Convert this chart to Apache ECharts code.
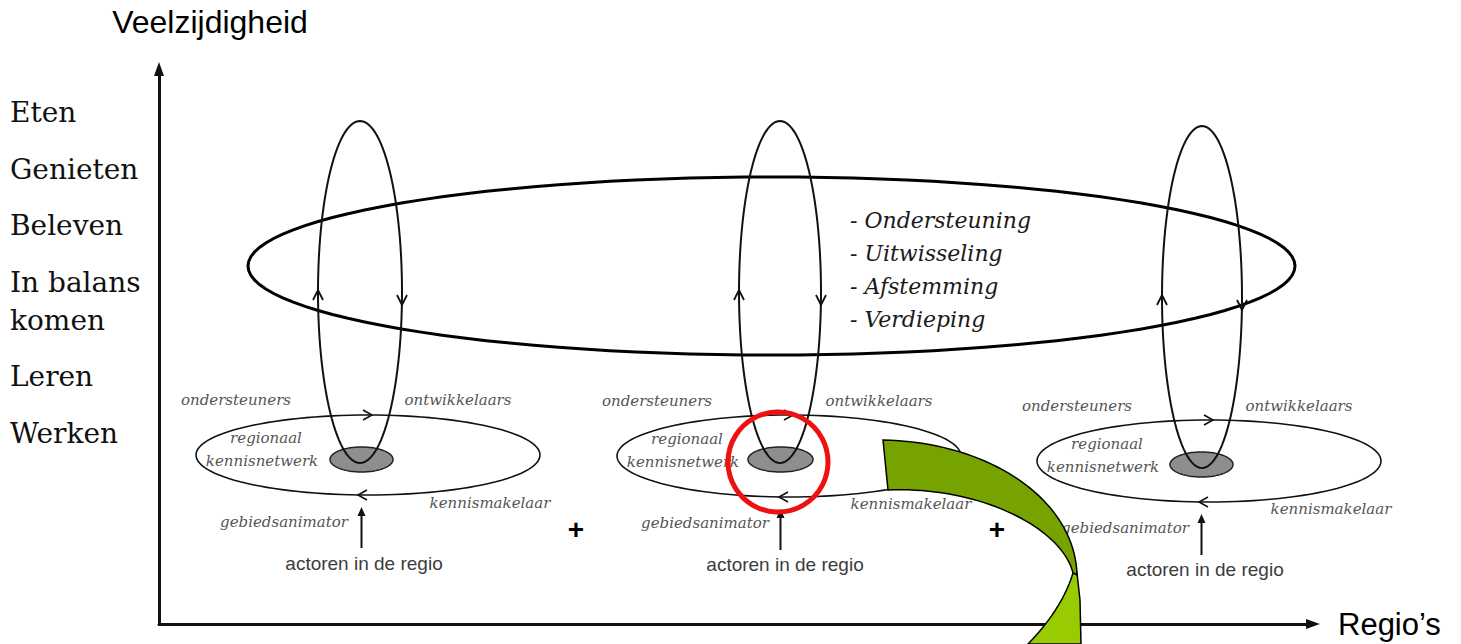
<!DOCTYPE html>
<html>
<head>
<meta charset="utf-8">
<style>
html, body { margin: 0; padding: 0; background: #fff; }
#diagram { width: 1461px; height: 644px; }
</style>
<script src="https://cdn.jsdelivr.net/npm/echarts@6/dist/echarts.min.js"></script>
</head>
<body>
<div id="diagram"></div>
<script>
// levels of "veelzijdigheid" (left side), with their height on the y axis
const levels = ['Eten', 'Genieten', 'Beleven', 'In balans\nkomen', 'Leren', 'Werken'];
const levelHeights = [512, 455, 399, 323, 248, 191];

// three regions along the x axis
const regions = ['regio 1', 'regio 2', 'regio 3'];
// regional network ring (small ellipse)
const ringCenterX = [209, 630, 1050];
const ringCenterY = [169, 168, 163];
const ringRadiusX = [172, 172, 172];
const ringRadiusY = [40, 41, 41];
// grey core "regionaal kennisnetwerk"
const coreCenterX = [202.5, 621.5, 1042.5];
const coreCenterY = [164.5, 164.5, 159.5];
const coreRadiusX = [31.5, 32.5, 31.5];
const coreRadiusY = [12.5, 12.5, 12.5];
// tall loop going up to the shared level
const loopCenterX = [201, 621, 1043];
const loopCenterY = [332, 332, 327];
const loopRadiusX = [42, 41, 40];
const loopRadiusY = [171, 171, 171];

// shared ellipse on top
const forumCenter = [612.5, 358];
const forumRadius = [523.5, 89];
const forumItems = ['- Ondersteuning', '- Uitwisseling', '- Afstemming', '- Verdieping'];

// roles around each ring
const roleLabels = ['ondersteuners', 'ontwikkelaars', 'regionaal', 'kennisnetwerk',
    'kennismakelaar', 'gebiedsanimator', 'actoren in de regio'];

// "+" between regions
const plusX = [417, 838];
const plusY = [95, 95];

// red highlight circle
const highlightCenter = [619, 162];
const highlightRadius = 50;

// green pointer (outer edge, inner edge, twisted tail)
const pointerOuter = [[724, 184], [831, 182], [916, 124], [918, 49]];
const pointerInner = [[729, 134], [821, 138], [903, 96], [914, 51]];
const pointerTail = [[914, 51], [918, 51], [921, 24], [922, -20], [869, -20], [903, 15]];

// label offsets (px) relative to ring center, layout only
const roleOffsets = [[-132, 55], [90, 55], [-102, 17], [-106, -6], [122, -48], [-84, -67], [-4, -108]];

const ink = '#111';
const italicSerif = '"DejaVu Serif", serif';

function ellipsePoints(api, cx, cy, rx, ry) {
    const c = api.coord([cx, cy]);
    const s = api.size([rx, ry]);
    const pts = [];
    for (let k = 0; k < 120; k++) {
        const a = k / 120 * Math.PI * 2;
        pts.push([c[0] + s[0] * Math.cos(a), c[1] - s[1] * Math.sin(a)]);
    }
    return pts;
}

function chevron(tip, angle, len, half) {
    const dx = Math.cos(angle), dy = Math.sin(angle);
    return [
        [tip[0] - len * dx - half * dy, tip[1] - len * dy + half * dx],
        tip,
        [tip[0] - len * dx + half * dy, tip[1] - len * dy - half * dx]
    ];
}

function bezier(p0, p1, p2, p3, n) {
    const out = [];
    for (let i = 0; i <= n; i++) {
        const t = i / n, u = 1 - t;
        out.push([
            u * u * u * p0[0] + 3 * u * u * t * p1[0] + 3 * u * t * t * p2[0] + t * t * t * p3[0],
            u * u * u * p0[1] + 3 * u * u * t * p1[1] + 3 * u * t * t * p2[1] + t * t * t * p3[1]
        ]);
    }
    return out;
}

const chart = echarts.init(document.getElementById('diagram'), null, { renderer: 'svg' });

const roleData = [];
regions.forEach((r, ri) => {
    roleLabels.forEach((name, li) => {
        roleData.push([ringCenterX[ri], ringCenterY[ri], li]);
    });
});

const option = {
    animation: false,
    grid: { left: 159, right: 148, top: 69, bottom: 20 },
    xAxis: {
        type: 'value', min: 0, max: 1154,
        name: 'Regio\u2019s', nameLocation: 'end', nameGap: 25,
        nameTextStyle: { fontFamily: '"Liberation Sans", Arial', fontSize: 31, color: '#000', verticalAlign: 'middle' },
        axisLine: { show: true, onZero: false, symbol: ['none', 'triangle'], symbolSize: [10, 14],
            lineStyle: { color: ink, width: 3 } },
        axisTick: { show: false }, axisLabel: { show: false }, splitLine: { show: false }
    },
    yAxis: {
        type: 'value', min: 0, max: 555,
        name: 'Veelzijdigheid', nameLocation: 'end', nameGap: 47,
        nameTextStyle: { fontFamily: '"Liberation Sans", Arial', fontSize: 32, color: '#000',
            align: 'center', verticalAlign: 'middle', padding: [0, 0, 0, 102] },
        axisLine: { show: true, onZero: false, symbol: ['none', 'triangle'], symbolSize: [10, 14],
            lineStyle: { color: ink, width: 3 } },
        axisTick: { show: false }, axisLabel: { show: false }, splitLine: { show: false }
    },
    series: [
        {
            name: 'forum', type: 'custom', clip: false, z: 3,
            data: [[forumCenter[0], forumCenter[1], forumRadius[0], forumRadius[1]]],
            renderItem: (params, api) => ({
                type: 'polygon',
                shape: { points: ellipsePoints(api, api.value(0), api.value(1), api.value(2), api.value(3)) },
                style: { fill: 'none', stroke: '#000', lineWidth: 3 }
            })
        },
        {
            name: 'forumItems', type: 'custom', clip: false, z: 4,
            data: forumItems.map((t, i) => [691, 404, i]),
            renderItem: (params, api) => {
                const p = api.coord([api.value(0), api.value(1)]);
                return {
                    type: 'text', x: p[0], y: p[1] + 33.3 * api.value(2),
                    style: { text: forumItems[api.value(2)], fill: '#1a1a1a', fontSize: 22,
                        fontStyle: 'italic', fontFamily: italicSerif, align: 'left', verticalAlign: 'middle' }
                };
            }
        },
        {
            name: 'cores', type: 'custom', clip: false, z: 3,
            data: regions.map((r, i) => [coreCenterX[i], coreCenterY[i], coreRadiusX[i], coreRadiusY[i]]),
            renderItem: (params, api) => ({
                type: 'polygon',
                shape: { points: ellipsePoints(api, api.value(0), api.value(1), api.value(2), api.value(3)) },
                style: { fill: '#8e8e8e', stroke: '#222', lineWidth: 1.5 }
            })
        },
        {
            name: 'rings', type: 'custom', clip: false, z: 4,
            data: regions.map((r, i) => [ringCenterX[i], ringCenterY[i], ringRadiusX[i], ringRadiusY[i], coreCenterX[i]]),
            renderItem: (params, api) => {
                const cx = api.value(0), cy = api.value(1), rx = api.value(2), ry = api.value(3), fx = api.value(4);
                const top = api.coord([cx + 4, cy + ry]);
                const bottom = api.coord([cx - 10, cy - ry]);
                const feedFrom = api.coord([fx, cy - ry - 53]);
                const feedTip = api.coord([fx, cy - ry - 12]);
                return {
                    type: 'group',
                    children: [
                        { type: 'polygon', shape: { points: ellipsePoints(api, cx, cy, rx, ry) },
                            style: { fill: 'none', stroke: ink, lineWidth: 1.6 } },
                        { type: 'polyline', shape: { points: chevron(top, 0, 9, 5) },
                            style: { fill: 'none', stroke: ink, lineWidth: 1.6 } },
                        { type: 'polyline', shape: { points: chevron(bottom, Math.PI, 9, 5) },
                            style: { fill: 'none', stroke: ink, lineWidth: 1.6 } },
                        { type: 'line', shape: { x1: feedFrom[0], y1: feedFrom[1], x2: feedTip[0], y2: feedTip[1] + 6 },
                            style: { stroke: ink, lineWidth: 2 } },
                        { type: 'polygon', shape: { points: [[feedTip[0], feedTip[1]], [feedTip[0] - 4, feedTip[1] + 9], [feedTip[0] + 4, feedTip[1] + 9]] },
                            style: { fill: ink } }
                    ]
                };
            }
        },
        {
            name: 'loops', type: 'custom', clip: false, z: 5,
            data: regions.map((r, i) => [loopCenterX[i], loopCenterY[i], loopRadiusX[i], loopRadiusY[i]]),
            renderItem: (params, api) => {
                const cx = api.value(0), cy = api.value(1), rx = api.value(2), ry = api.value(3);
                const up = api.coord([cx - rx, cy + 2]);
                const down = api.coord([cx + rx, cy - 13]);
                return {
                    type: 'group',
                    children: [
                        { type: 'polygon', shape: { points: ellipsePoints(api, cx, cy, rx, ry) },
                            style: { fill: 'none', stroke: ink, lineWidth: 2 } },
                        { type: 'polyline', shape: { points: chevron(up, -Math.PI / 2, 10, 5) },
                            style: { fill: 'none', stroke: ink, lineWidth: 1.8 } },
                        { type: 'polyline', shape: { points: chevron(down, Math.PI / 2, 10, 5) },
                            style: { fill: 'none', stroke: ink, lineWidth: 1.8 } }
                    ]
                };
            }
        },
        {
            name: 'roles', type: 'custom', clip: false, z: 6,
            data: roleData,
            renderItem: (params, api) => {
                const li = api.value(2);
                const off = roleOffsets[li];
                const p = api.coord([api.value(0), api.value(1)]);
                const isActor = li === roleLabels.length - 1;
                return {
                    type: 'text', x: p[0] + off[0], y: p[1] - off[1],
                    style: {
                        text: roleLabels[li], fill: isActor ? '#3c3c3c' : '#555',
                        fontSize: isActor ? 19 : 15, fontStyle: isActor ? 'normal' : 'italic',
                        fontFamily: isActor ? '"Liberation Sans", Arial' : italicSerif,
                        align: 'center', verticalAlign: 'middle'
                    }
                };
            }
        },
        {
            name: 'levels', type: 'custom', clip: false, z: 6,
            data: levels.map((l, i) => [0, levelHeights[i], i]),
            renderItem: (params, api) => {
                const p = api.coord([api.value(0), api.value(1)]);
                return {
                    type: 'text', x: 10, y: p[1],
                    style: { text: levels[api.value(2)], fill: '#111', fontSize: 28, lineHeight: 38,
                        fontFamily: '"DejaVu Serif", serif', align: 'left', verticalAlign: 'middle' }
                };
            }
        },
        {
            name: 'plus', type: 'custom', clip: false, z: 6,
            data: plusX.map((x, i) => [x, plusY[i]]),
            renderItem: (params, api) => {
                const p = api.coord([api.value(0), api.value(1)]);
                return {
                    type: 'text', x: p[0], y: p[1],
                    style: { text: '+', fill: '#000', fontSize: 28, fontWeight: 'bold',
                        fontFamily: '"Liberation Sans", Arial', align: 'center', verticalAlign: 'middle' }
                };
            }
        },
        {
            name: 'pointer', type: 'custom', clip: false, z: 8,
            data: [[0]],
            renderItem: (params, api) => {
                const o = pointerOuter.map(p => api.coord(p));
                const n = pointerInner.map(p => api.coord(p));
                const t = pointerTail.map(p => api.coord(p));
                const outer = bezier(o[0], o[1], o[2], o[3], 40);
                const inner = bezier(n[0], n[1], n[2], n[3], 40).reverse();
                const tailLeft = [];
                for (let i = 0; i <= 20; i++) {
                    const s = i / 20, u = 1 - s;
                    tailLeft.push([u * u * t[4][0] + 2 * u * s * t[5][0] + s * s * t[0][0],
                        u * u * t[4][1] + 2 * u * s * t[5][1] + s * s * t[0][1]]);
                }
                return {
                    type: 'group',
                    children: [
                        { type: 'polygon', shape: { points: [t[1], t[2], t[3], t[4]].concat(tailLeft) },
                            style: { fill: '#99cc00', stroke: '#000', lineWidth: 1.5 } },
                        { type: 'polygon', shape: { points: outer.concat(inner) },
                            style: { fill: '#77a300', stroke: '#000', lineWidth: 1.5 } }
                    ]
                };
            }
        },
        {
            name: 'highlight', type: 'custom', clip: false, z: 9,
            data: [[highlightCenter[0], highlightCenter[1], highlightRadius]],
            renderItem: (params, api) => {
                const c = api.coord([api.value(0), api.value(1)]);
                const r = api.size([api.value(2), 0])[0];
                return {
                    type: 'circle', shape: { cx: c[0], cy: c[1], r: r },
                    style: { fill: 'none', stroke: '#ee1111', lineWidth: 5 }
                };
            }
        }
    ]
};

chart.setOption(option);
</script>
</body>
</html>
